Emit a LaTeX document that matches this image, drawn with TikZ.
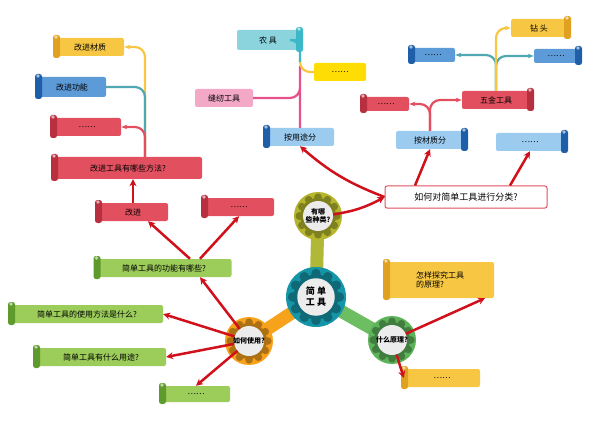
\documentclass[tikz,border=0pt]{standalone}
\usepackage{fontspec}
\newfontfamily\cjk{Noto Sans CJK SC}
\usetikzlibrary{arrows.meta,calc}
\definecolor{rred}{HTML}{E2505F}
\definecolor{rredd}{HTML}{B8303F}
\definecolor{ryel}{HTML}{F7C744}
\definecolor{ryeld}{HTML}{E0A020}
\definecolor{rblu}{HTML}{5C9BD8}
\definecolor{rblud}{HTML}{1F5EA8}
\definecolor{rlb}{HTML}{9CCBF0}
\definecolor{rgrn}{HTML}{9CCC5A}
\definecolor{rgrnd}{HTML}{5E9A2C}
\definecolor{rteal}{HTML}{3DB8C8}
\definecolor{rpink}{HTML}{E8508C}
\definecolor{arrred}{HTML}{D0101A}
\definecolor{gorange}{HTML}{F7A21B}
\definecolor{golive}{HTML}{B5B62C}
\definecolor{ggreen}{HTML}{5DB35A}
\definecolor{gteal}{HTML}{1596A8}
\definecolor{lolive}{HTML}{B0B838}
\definecolor{lgreen}{HTML}{6DBE63}
\tikzset{
 rib/.style={rectangle,rounded corners=2pt,font=\cjk\fontsize{8}{9}\selectfont,inner sep=1pt,align=left},
 roll/.style={rounded corners=2.5pt},
 rarr/.style={draw=arrred,line width=2.5pt,-{Stealth[length=7pt,width=7pt]}},
 lnk/.style={line width=2.2pt,rounded corners=10pt},
 gtxt/.style={font=\cjk\bfseries\fontsize{7}{8}\selectfont,align=center},
}
\newcommand\ribbon[9]{%
 \node[rib,fill=#6,minimum width=#4pt,minimum height=#5pt] (#1) at (#2,#3) {#9};
 \fill[#7,roll] ($(#1.center)+(#8*#4/2-3,-#5/2-3)$) rectangle +(7,#5+5);
 \fill[white,opacity=.6] ($(#1.center)+(#8*#4/2,-#5/2-1)$) circle (1.8pt);
}
\newcommand\gearx[5]{%
 \fill[#4] (#2,#3) circle (#5);
 \foreach \a in {0,30,...,330}{\fill[#4!70!black] ($(#2,#3)+(\a:#5*0.78)$) circle (#5*0.16);}
 \fill[#4!70!black] (#2,#3) circle (#5*0.75);
 \node[circle,fill=white!85!gray,minimum size=#5*1.25pt,inner sep=0pt] (#1) at (#2,#3) {};
}
\begin{document}
\begin{tikzpicture}[x=1pt,y=-1pt]
\useasboundingbox (0,0) rectangle (600,425);
\draw[line width=13pt,draw=lolive] (316,297) -- (318,216);
\draw[line width=13pt,draw=gorange] (316,297) -- (249,341);
\draw[line width=13pt,draw=lgreen] (316,297) -- (392,340);
\gearx{use}{249}{341}{gorange}{24}
\gearx{kind}{318}{216}{golive}{24}
\gearx{prin}{392}{340}{ggreen}{24}
\gearx{core}{316}{297}{gteal}{30}
\node[gtxt] at (use) {如何使用?};
\node[gtxt] at (kind) {有哪\\些种类?};
\node[gtxt] at (prin) {什么原理?};
\node[gtxt,font=\cjk\bfseries\fontsize{9}{11}\selectfont] at (core) {简 单\\工 具};
\ribbon{cz}{90}{47}{68}{18}{ryel}{ryeld}{-1}{改进材质}
\ribbon{gn}{72}{87}{68}{20}{rblu}{rblud}{-1}{改进功能}
\ribbon{d1}{87}{127}{68}{18}{rred}{rredd}{-1}{……}
\ribbon{ff}{128}{168}{148}{22}{rred}{rredd}{-1}{改进工具有哪些方法?}
\ribbon{gj}{133}{212}{70}{18}{rred}{rredd}{-1}{改进}
\ribbon{d2}{239}{207}{70}{18}{rred}{rredd}{-1}{……}
\ribbon{gnq}{164}{268}{135}{18}{rgrn}{rgrnd}{-1}{简单工具的功能有哪些?}
\ribbon{syf}{87}{314}{152}{18}{rgrn}{rgrnd}{-1}{简单工具的使用方法是什么?}
\ribbon{yt}{101}{357}{130}{18}{rgrn}{rgrnd}{-1}{简单工具有什么用途?}
\ribbon{d3}{196}{394}{68}{16}{rgrn}{rgrnd}{-1}{……}
\ribbon{ty}{440}{280}{108}{36}{ryel}{ryeld}{-1}{怎样探究工具\\的原理?}
\ribbon{d4}{442}{378}{76}{18}{ryel}{ryeld}{-1}{……}
\ribbon{yt2}{300}{137}{68}{18}{rlb}{rblud}{-1}{按用途分}
\ribbon{cz2}{430}{140}{68}{18}{rlb}{rblud}{1}{按材质分}
\ribbon{d5}{530}{142}{68}{18}{rlb}{rblud}{1}{……}
\ribbon{d6}{386}{104}{46}{14}{rred}{rredd}{-1}{……}
\ribbon{wj}{496}{100}{68}{18}{rred}{rredd}{1}{五金工具}
\ribbon{d7}{433}{55}{44}{14}{rblu}{rblud}{-1}{……}
\ribbon{d8}{556}{56}{44}{14}{rblu}{rblud}{1}{……}
\ribbon{zt}{539}{28}{56}{18}{ryel}{ryeld}{1}{钻 头}
\ribbon{nj}{268}{40}{62}{20}{rteal!60}{rteal}{1}{农 具}
\node[rib,fill=yellow!80!orange,minimum width=52pt,minimum height=18pt] (d9) at (340,72) {……};
\node[rib,fill=rpink!50,minimum width=58pt,minimum height=18pt] (fr) at (224,98) {缝纫工具};
\node[rib,fill=white,draw=rred,line width=1pt,minimum width=162pt,minimum height=22pt,font=\cjk\fontsize{9}{10}\selectfont] (cls) at (466,197) {如何对简单工具进行分类?};
\draw[lnk,draw=ryel,-{Stealth[length=6pt]}] (ff.north -| 145,0) |- (cz.east);
\draw[lnk,draw=rteal!70!gray] (ff.north -| 145,0) |- (gn.east);
\draw[lnk,draw=rred,-{Stealth[length=6pt]}] (ff.north -| 145,0) |- (d1.east);
\draw[lnk,draw=rpink] (yt2.north) -- (300,60) |- (fr.east);
\draw[lnk,draw=ryel] (300,60) |- (d9.west);
\draw[lnk,draw=rteal] (300,62) |- (nj.east);
\draw[lnk,draw=rred,-{Stealth[length=6pt]}] (cz2.north) |- (d6.east);
\draw[lnk,draw=rred,-{Stealth[length=6pt]}] (cz2.north) |- (wj.west);
\draw[lnk,draw=rteal!70!gray,-{Stealth[length=6pt]}] (wj.north) |- (d7.east);
\draw[lnk,draw=rteal!70!gray,-{Stealth[length=6pt]}] (wj.north) |- (d8.west);
\draw[lnk,draw=ryel,-{Stealth[length=6pt]}] (wj.north) |- (zt.west);
\draw[rarr] (kind) to[bend right=10] (cls.west);
\draw[rarr] (cls.west) to[bend left=10] (yt2.south);
\draw[rarr] (cls.north -| 415,0) -- (cz2.south);
\draw[rarr] (cls.north -| 510,0) -- (d5.south);
\draw[rarr] (gnq.north -| 190,0) -- (gj.south -| 148,0);
\draw[rarr] (gnq.north -| 200,0) -- (d2.south);
\draw[rarr] (gj.north) -- (ff.south -| 133,0);
\draw[rarr] (use) -- (gnq.south -| 200,0);
\draw[rarr] (use) -- (syf.east);
\draw[rarr] (use) -- (yt.east);
\draw[rarr] (use) -- (d3.north);
\draw[rarr] (prin) -- (ty.south -| 485,0);
\draw[rarr] (prin) -- (d4.west);
\end{tikzpicture}
\end{document}
